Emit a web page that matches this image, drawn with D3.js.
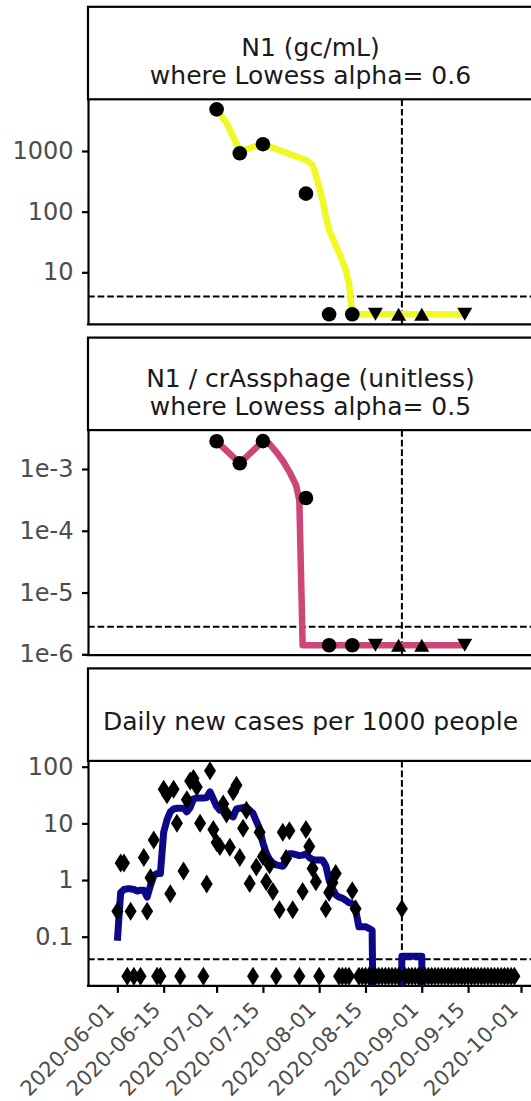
<!DOCTYPE html>
<head>
  <meta charset="utf-8">
  <script src="https://d3js.org/d3.v7.min.js"></script>
  <style>
    body { margin: 0; background: #fff; }
    text { font-family: "DejaVu Sans", sans-serif; }
  </style>
</head>
<body>
  <svg width="531" height="1101"></svg>
  <script>
    // ---- wastewater samples (panels 1 and 2) ----
    var sampleDates = ["2020-07-01", "2020-07-08", "2020-07-15", "2020-07-28", "2020-08-04",
      "2020-08-11", "2020-08-18", "2020-08-25", "2020-09-01", "2020-09-14"];
    var sampleShapes = ["circle", "circle", "circle", "circle", "circle",
      "circle", "down", "up", "up", "down"];
    var n1Values = [4865, 916, 1294, 198, 2.03, 2.03, 2.03, 2.03, 2.03, 2.03];
    var ratioValues = [2.81e-3, 1.24e-3, 2.83e-3, 3.39e-4, 1.4e-6, 1.4e-6, 1.4e-6, 1.4e-6, 1.4e-6, 1.4e-6];

    // lowess fits
    var n1LowessDates = ["2020-07-01", "2020-07-04", "2020-07-06", "2020-07-08", "2020-07-15", "2020-07-28",
      "2020-07-30", "2020-07-31", "2020-08-02", "2020-08-03", "2020-08-04", "2020-08-05", "2020-08-07",
      "2020-08-09", "2020-08-10", "2020-08-11", "2020-09-14"];
    var n1LowessValues = [4865, 2890, 1720, 1000, 1300, 711, 588, 402, 158, 83, 50, 37, 21, 11, 6.6, 2.03, 2.03];
    var ratioLowessDates = ["2020-07-01", "2020-07-08", "2020-07-15", "2020-07-17", "2020-07-19", "2020-07-21",
      "2020-07-23", "2020-07-25", "2020-07-26", "2020-07-27", "2020-09-14"];
    var ratioLowessValues = [2.81e-3, 1.24e-3, 2.83e-3, 2.54e-3, 1.9e-3, 1.36e-3, 9.0e-4, 5.5e-4, 3.1e-4, 1.4e-6, 1.4e-6];

    // ---- daily new cases per 1000 people (panel 3), one value per day from caseStart ----
    // 0 = no new cases (drawn on the floor row), null = no report
    var caseStart = "2020-06-01";
    var caseValues = [
      0.28, 2.0, 2.0, 0, 0.28, 0, null, 0, 2.5, 0.28,
      1.1, 5.1, 0, 0, 40, 32, 0.57, 40, 10, 0,
      1.45, 26, 56, 62, 44, 10, 0, 0.85, 85, 7.8,
      4.6, 3.9, 22, 14.6, 3.8, 36, 47, 2.5, 8.2, 17,
      0.87, 0, 1.7, 7, 2.6, 0.93, 1.85, 0.63, 0, 0.3,
      7, 2.4, 7.4, 0.3, null, 0, 0.63, 7.8, 3.9, 1.6,
      0.93, 0, null, 0.31, 0.6, 0.9, 1.3, 0, 0, 0,
      0, 0.65, 0.31, 0, 0, 0, 0, 0, 0, 0,
      0, 0, 0, 0, 0, 0, 0.31, 0, 0, 0,
      0, 0, 0, 0, 0, 0, 0, 0, 0, 0,
      0, 0, 0, 0, 0, 0, 0, 0, 0, 0,
      0, 0, 0, 0, 0, 0, 0, 0, 0, 0,
      0];
    var caseAverage = [
      0.085, 0.6, 0.68, 0.7, 0.7, 0.68, 0.64, 0.66, 0.66, 0.5,
      0.8, 1.2, 1.3, 1.3, 7, 11.5, 16, 18, 18.5, 18.5,
      18.5, 16, 19, 27, 28, 28, 28, 28.5, 36, 27,
      20, 17, 17.5, 16, 14, 13, 18, 18.5, 19, 19,
      17, 15, 11, 8, 4.5, 3.0, 2.3, 2.0, 1.85, 1.8,
      1.75, 2.4, 2.9, 2.9, 2.8, 2.7, 2.75, 2.9, 2.5, 2.3,
      2.25, 2.25, 2.25, 1.8, 1.0, 0.7, 0.55, 0.5, 0.48, 0.44,
      0.4, 0.38, 0.3, 0.15, 0.15, 0.15, 0.14, 0.13, 0, 0,
      0, 0, 0, 0, 0, 0, 0.045, 0.045, 0.045, 0.045,
      0.045, 0.045, 0.045, 0, 0, 0, 0, 0, 0, 0,
      0, 0, 0, 0, 0, 0, 0, 0, 0, 0,
      0, 0, 0, 0, 0, 0, 0, 0, 0, 0,
      0];
    var caseFloor = 0.02;

    // reference lines
    var n1Lod = 4, ratioLod = 2.8e-6, caseLod = 0.04;
    var markerDate = "2020-08-26";

    var xTickLabels = ["2020-06-01", "2020-06-15", "2020-07-01", "2020-07-15", "2020-08-01",
      "2020-08-15", "2020-09-01", "2020-09-15", "2020-10-01"];

    // ---- layout ----
    var svg = d3.select("svg");
    var parse = d3.utcParse("%Y-%m-%d");
    var plotLeft = 88, plotRight = 533;
    var stripTop0 = 6.8, panelPitch = 330.8, stripH = 92.5, plotH = 225;

    var x = d3.scaleUtc()
      .domain([Date.UTC(2020, 4, 23, 3), Date.UTC(2020, 9, 4, 15)])
      .range([plotLeft, plotRight]);

    var panels = [
      { title: ["N1 (gc/mL)", "where Lowess alpha= 0.6"], exp: [0.1426, 3.8524],
        ticks: [10, 100, 1000], labels: ["10", "100", "1000"] },
      { title: ["N1 / crAssphage (unitless)", "where Lowess alpha= 0.5"], exp: [-6.013, -2.3702],
        ticks: [1e-6, 1e-5, 1e-4, 1e-3], labels: ["1e-6", "1e-5", "1e-4", "1e-3"] },
      { title: ["Daily new cases per 1000 people"], exp: [-1.868, 2.1023],
        ticks: [0.1, 1, 10, 100], labels: ["0.1", "1", "10", "100"] }
    ];

    var markerPath = {
      down: "M-7.5,-6.5L7.5,-6.5L0,6.5Z",
      up: "M0,-6.5L7.5,6.5L-7.5,6.5Z",
      diamond: "M0,-9.5L6,0L0,9.5L-6,0Z"
    };

    var built = panels.map(function (p, i) {
      var top = stripTop0 + i * panelPitch;
      var pTop = top + stripH, pBot = pTop + plotH;
      var y = d3.scaleLog()
        .domain([Math.pow(10, p.exp[0]), Math.pow(10, p.exp[1])])
        .range([pBot, pTop]);
      var g = svg.append("g");

      svg.append("clipPath").attr("id", "clip" + i)
        .append("rect")
        .attr("x", plotLeft).attr("y", pTop)
        .attr("width", plotRight - plotLeft).attr("height", plotH);

      // strip
      g.append("rect")
        .attr("x", plotLeft).attr("y", top)
        .attr("width", 460).attr("height", stripH)
        .attr("fill", "#fff").attr("stroke", "#000").attr("stroke-width", 2.2);
      var baselines = p.title.length == 2 ? [49.5, 77] : [61.9];
      p.title.forEach(function (t, k) {
        g.append("text")
          .attr("x", (plotLeft + plotRight) / 2)
          .attr("y", top + baselines[k])
          .attr("text-anchor", "middle")
          .attr("font-size", "25px")
          .attr("fill", "#1a1a1a")
          .text(t);
      });

      // y axis
      var ax = g.append("g")
        .attr("transform", "translate(" + plotLeft + ",0)")
        .call(d3.axisLeft(y).tickValues(p.ticks)
          .tickFormat(function (d, k) { return p.labels[k]; })
          .tickSize(6).tickSizeOuter(0).tickPadding(8.5));
      ax.select(".domain").attr("stroke-width", 2.2);
      ax.selectAll(".tick line").attr("stroke-width", 2.2);
      ax.selectAll(".tick text")
        .attr("font-size", "24px")
        .attr("fill", "#4d4d4d")
        .attr("font-family", "DejaVu Sans");

      // bottom axis line
      g.append("line")
        .attr("x1", plotLeft - 1.1).attr("x2", 540)
        .attr("y1", pBot).attr("y2", pBot)
        .attr("stroke", "#000").attr("stroke-width", 2.2);

      var layer = g.append("g").attr("clip-path", "url(#clip" + i + ")");
      return { g: g, layer: layer, y: y, pTop: pTop, pBot: pBot };
    });

    function refLines(b, lod) {
      b.layer.append("line")
        .attr("x1", plotLeft).attr("x2", plotRight)
        .attr("y1", b.y(lod)).attr("y2", b.y(lod))
        .attr("stroke", "#000").attr("stroke-width", 2)
        .attr("stroke-dasharray", "6.7,2.9");
      b.layer.append("line")
        .attr("x1", x(parse(markerDate))).attr("x2", x(parse(markerDate)))
        .attr("y1", b.pTop).attr("y2", b.pBot)
        .attr("stroke", "#000").attr("stroke-width", 2)
        .attr("stroke-dasharray", "6.7,2.9");
    }

    function lowess(b, dates, values, color) {
      var line = d3.line()
        .x(function (d, k) { return x(parse(dates[k])); })
        .y(function (d) { return b.y(d); });
      b.layer.append("path")
        .datum(values)
        .attr("fill", "none")
        .attr("stroke", color)
        .attr("stroke-width", 6.5)
        .attr("stroke-linejoin", "round")
        .attr("d", line);
    }

    function samples(b, values) {
      values.forEach(function (v, k) {
        var cx = x(parse(sampleDates[k])), cy = b.y(v);
        if (sampleShapes[k] == "circle") {
          b.g.append("circle").attr("cx", cx).attr("cy", cy).attr("r", 7.3).attr("fill", "#000");
        } else {
          b.g.append("path")
            .attr("d", markerPath[sampleShapes[k]])
            .attr("transform", "translate(" + cx + "," + cy + ")")
            .attr("fill", "#000");
        }
      });
    }

    // panel 1
    refLines(built[0], n1Lod);
    lowess(built[0], n1LowessDates, n1LowessValues, "#f0f921");
    samples(built[0], n1Values);

    // panel 2
    refLines(built[1], ratioLod);
    lowess(built[1], ratioLowessDates, ratioLowessValues, "#cc4778");
    samples(built[1], ratioValues);

    // panel 3
    var b3 = built[2];
    var day0 = parse(caseStart);
    function dayDate(k) { return d3.utcDay.offset(day0, k); }
    refLines(b3, caseLod);
    b3.layer.append("path")
      .datum(caseAverage)
      .attr("fill", "none")
      .attr("stroke", "#0d0887")
      .attr("stroke-width", 7)
      .attr("stroke-linejoin", "round")
      .attr("d", d3.line()
        .x(function (d, k) { return x(dayDate(k)); })
        .y(function (d) { return b3.y(Math.max(d, 1e-6)); }));
    caseValues.forEach(function (v, k) {
      if (v === null) return;
      b3.g.append("path")
        .attr("d", markerPath.diamond)
        .attr("transform", "translate(" + x(dayDate(k)) + "," + b3.y(v > 0 ? v : caseFloor) + ")")
        .attr("fill", "#000");
    });

    // x axis under the last panel
    var xa = b3.g.append("g")
      .attr("transform", "translate(0," + b3.pBot + ")")
      .call(d3.axisBottom(x)
        .tickValues(xTickLabels.map(parse))
        .tickFormat(function (d, k) { return xTickLabels[k]; })
        .tickSize(7).tickSizeOuter(0));
    xa.select(".domain").remove();
    xa.selectAll(".tick line").attr("stroke-width", 2.2);
    xa.selectAll(".tick text")
      .attr("font-size", "21px")
      .attr("fill", "#4d4d4d")
      .attr("font-family", "DejaVu Sans")
      .attr("text-anchor", "end")
      .attr("x", 0).attr("y", 0).attr("dy", 0)
      .attr("transform", "translate(-2.4,25.1) rotate(-45)");
  </script>
</body>
